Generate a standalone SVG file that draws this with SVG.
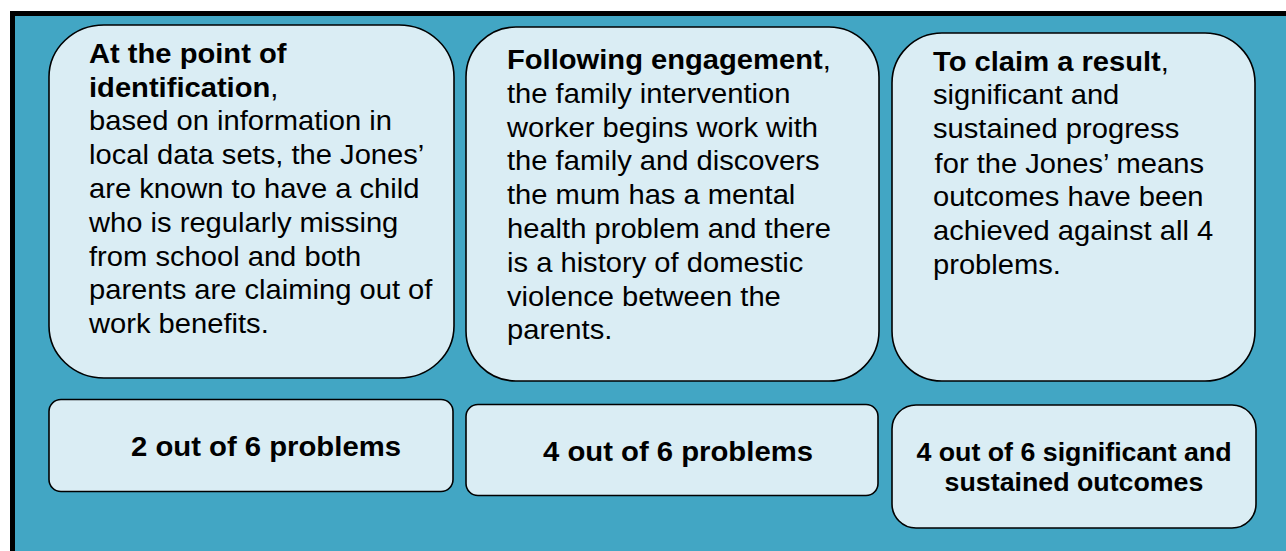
<svg xmlns="http://www.w3.org/2000/svg" width="1286" height="551" viewBox="0 0 1286 551">
<style>
.frame{fill:#42A6C4;stroke:#000;stroke-width:5}
.box{fill:#DAEDF4;stroke:#000;stroke-width:1.6}
.t{font-family:"Liberation Sans",Arial,sans-serif;font-size:27.5px;fill:#000}
.b{font-weight:bold}
.lbl{font-family:"Liberation Sans",Arial,sans-serif;font-size:27.5px;font-weight:bold;fill:#000}
.lbl3{font-family:"Liberation Sans",Arial,sans-serif;font-size:26px;font-weight:bold;fill:#000}
</style>
<rect x="0" y="0" width="1286" height="551" fill="#fff"/>
<rect class="frame" x="12.5" y="13.5" width="1290" height="560"/>
<g id="node-identification">
<rect class="box" x="49" y="25" width="405" height="353" rx="55" ry="52"/>
<g transform="translate(89,0) scale(1.06,1)">
<text class="t"><tspan class="b" x="0" y="63">At the point of</tspan><tspan class="b" x="0" y="97">identification</tspan><tspan>,</tspan><tspan x="0" y="130">based on information in</tspan><tspan x="0" y="164">local data sets, the Jones’</tspan><tspan x="0" y="198">are known to have a child</tspan><tspan x="0" y="232">who is regularly missing</tspan><tspan x="0" y="266">from school and both</tspan><tspan x="0" y="299">parents are claiming out of</tspan><tspan x="0" y="333">work benefits.</tspan></text>
</g>
</g>
<g id="node-engagement">
<rect class="box" x="466" y="27" width="413" height="354" rx="50" ry="50"/>
<g transform="translate(507,0) scale(1.06,1)">
<text class="t"><tspan class="b" x="0" y="69">Following engagement</tspan><tspan>,</tspan><tspan x="0" y="103">the family intervention</tspan><tspan x="0" y="137">worker begins work with</tspan><tspan x="0" y="170">the family and discovers</tspan><tspan x="0" y="204">the mum has a mental</tspan><tspan x="0" y="238">health problem and there</tspan><tspan x="0" y="272">is a history of domestic</tspan><tspan x="0" y="306">violence between the</tspan><tspan x="0" y="339">parents.</tspan></text>
</g>
</g>
<g id="node-result">
<rect class="box" x="892" y="33" width="363" height="348" rx="50" ry="50"/>
<g transform="translate(933,0) scale(1.06,1)">
<text class="t"><tspan class="b" x="0" y="71">To claim a result</tspan><tspan>,</tspan><tspan x="0" y="104">significant and</tspan><tspan x="0" y="138">sustained progress</tspan><tspan x="1.5" y="173">for the Jones’ means</tspan><tspan x="0" y="206">outcomes have been</tspan><tspan x="0" y="240">achieved against all 4</tspan><tspan x="0" y="274">problems.</tspan></text>
</g>
</g>
<g id="node-two-problems">
<rect class="box" x="49" y="399.5" width="404" height="92" rx="12" ry="12"/>
<text class="lbl" transform="translate(131,456) scale(1.065,1)">2 out of 6 problems</text>
</g>
<g id="node-four-problems">
<rect class="box" x="466" y="404.5" width="412" height="91" rx="12" ry="12"/>
<text class="lbl" transform="translate(543,461) scale(1.065,1)">4 out of 6 problems</text>
</g>
<g id="node-four-outcomes">
<rect class="box" x="892" y="405" width="364" height="123" rx="24" ry="24"/>
<g transform="translate(1074,0) scale(1.03,1)">
<text class="lbl3" text-anchor="middle"><tspan x="0" y="461">4 out of 6 significant and</tspan><tspan x="0" y="491">sustained outcomes</tspan></text>
</g>
</g>
<g id="connectors"></g>
</svg>
